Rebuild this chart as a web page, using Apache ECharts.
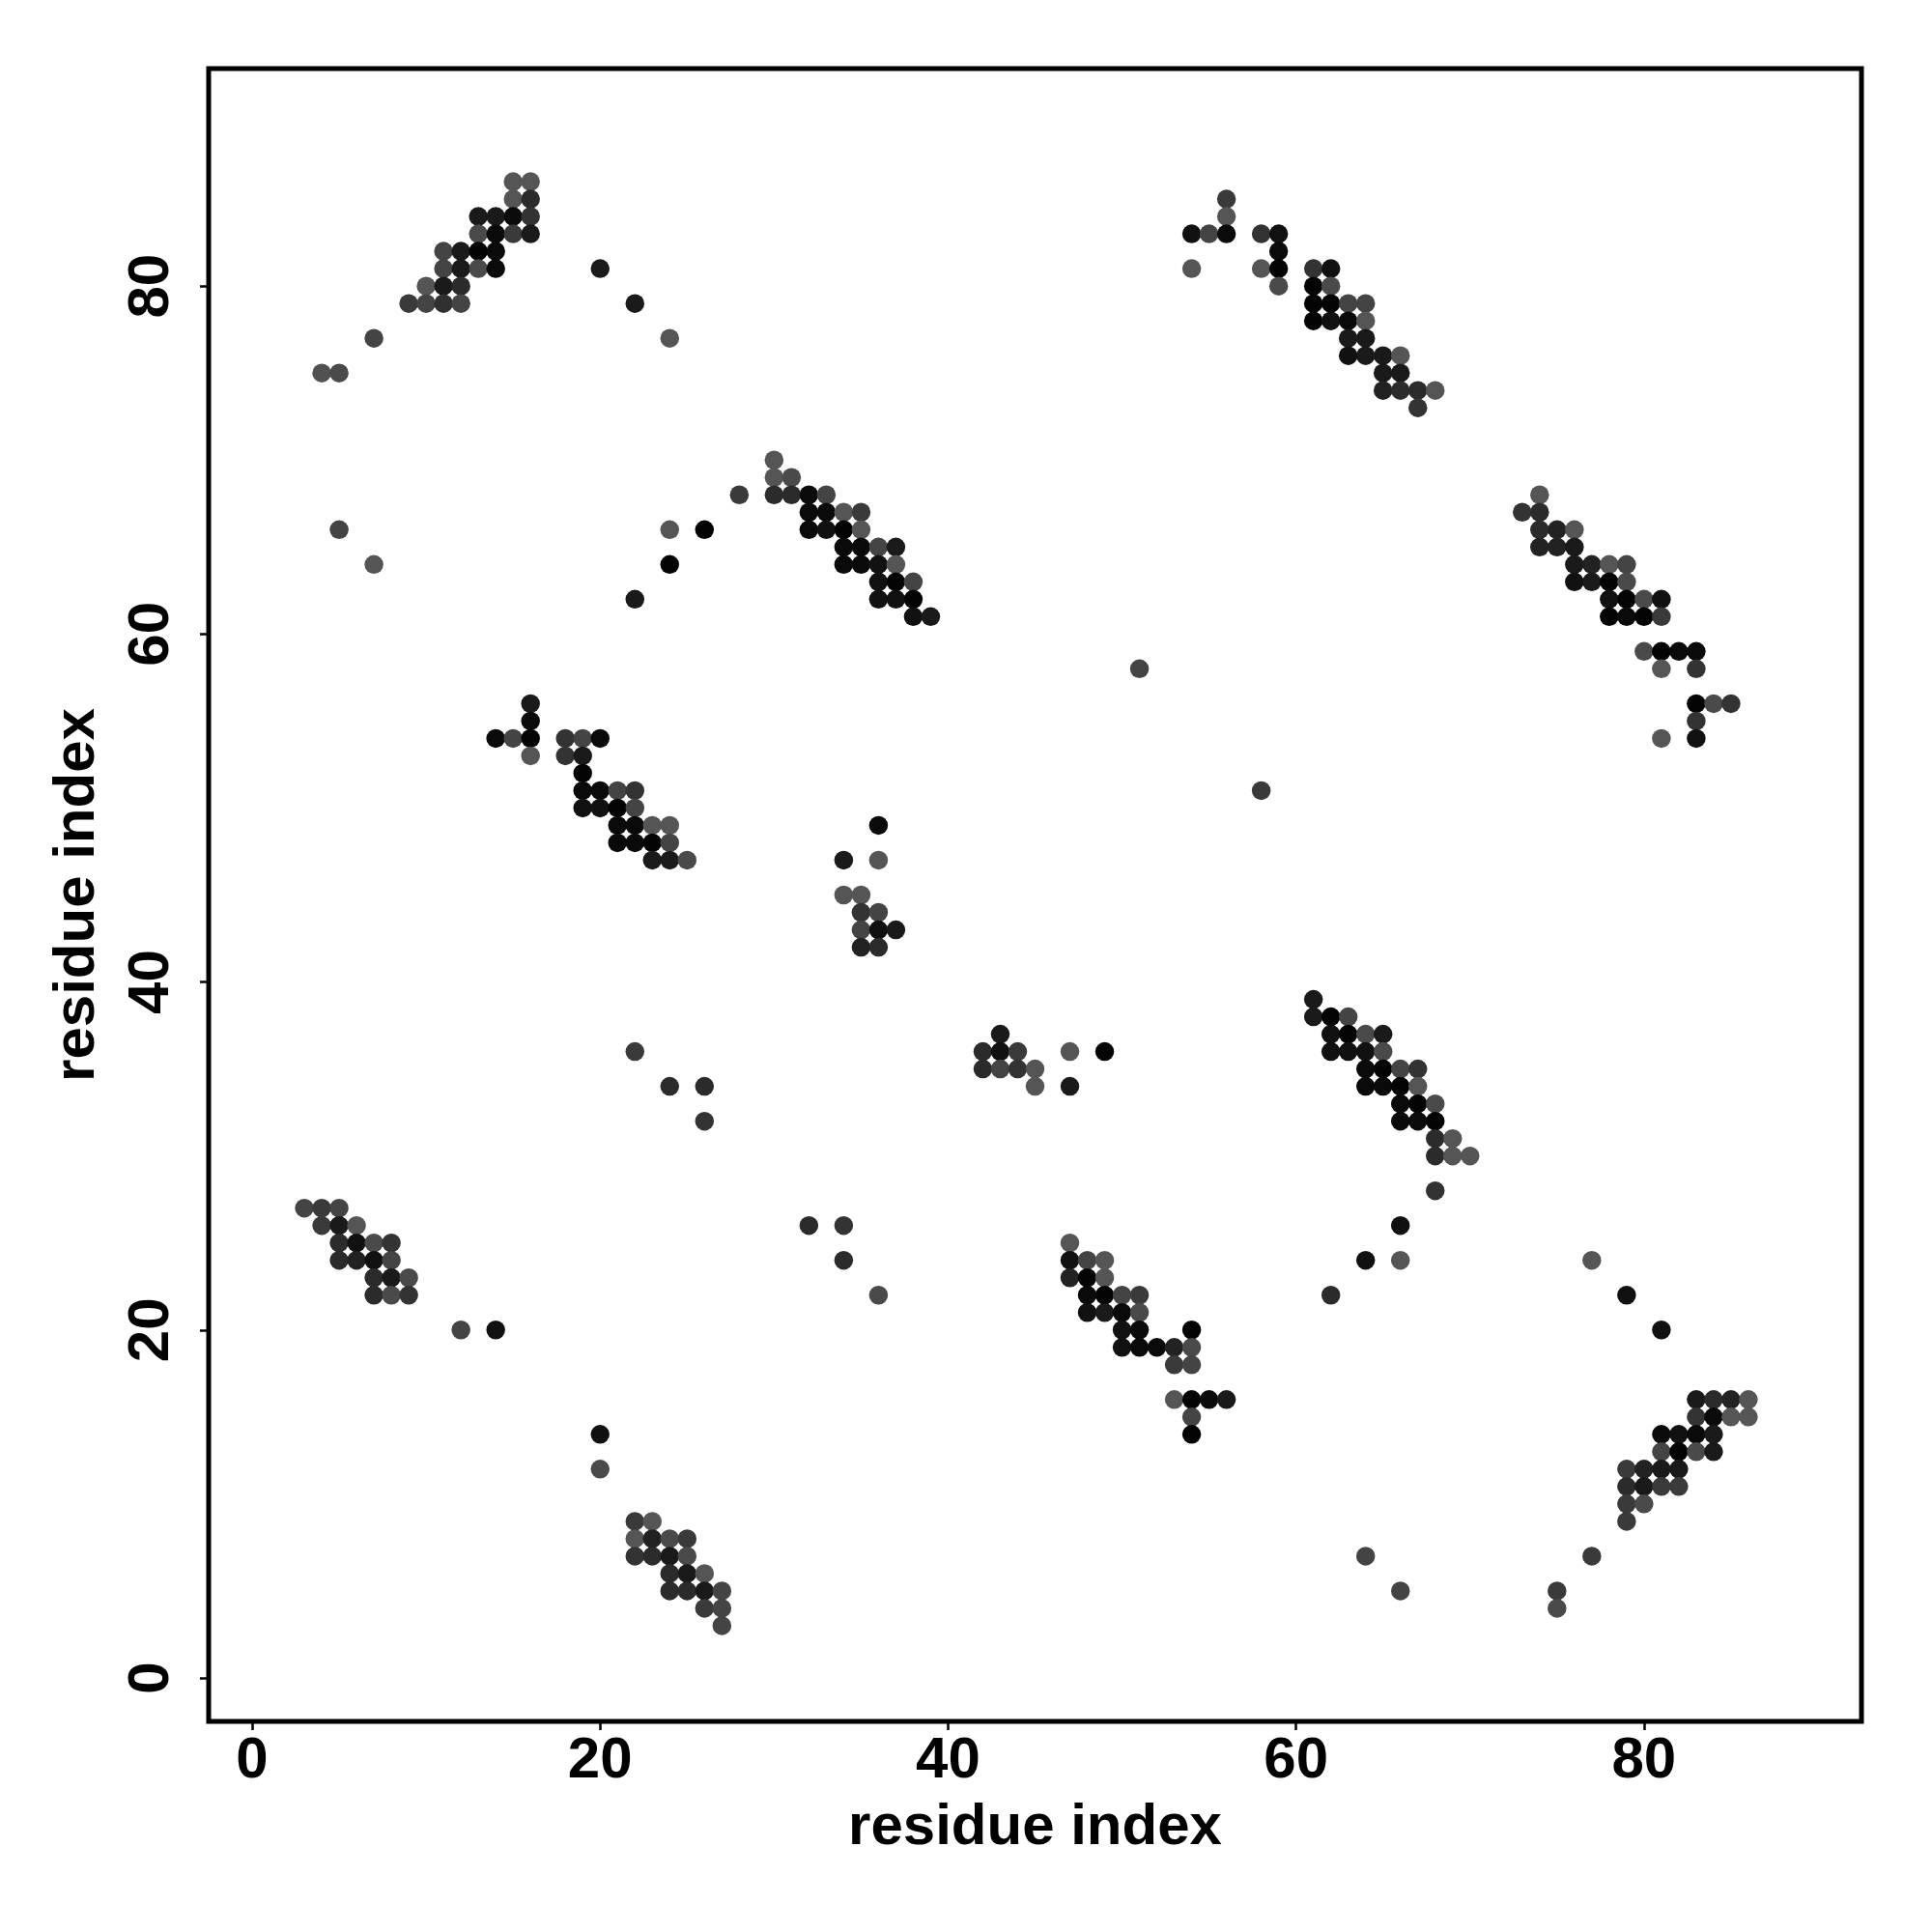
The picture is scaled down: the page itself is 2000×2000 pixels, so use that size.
<!DOCTYPE html>
<html>
<head>
<meta charset="utf-8">
<script src="https://cdn.jsdelivr.net/npm/echarts@6/dist/echarts.min.js"></script>
<style>
  html, body { margin: 0; padding: 0; background: #fff; }
  #chart { width: 2000px; height: 2000px; }
</style>
</head>
<body>
<div id="chart"></div>
<script>
// Contact map: each entry is [residue i, residue j, contact score]
const clusterTopLeft = [
  [15,86,.42],[16,86,.42],[15,85,.42],[16,85,.72],
  [13,84,.84],[14,84,.84],[15,84,.95],[16,84,.66],
  [13,83,.5],[14,83,.95],[15,83,.61],[16,83,.84],
  [11,82,.54],[12,82,.84],[13,82,.99],[14,82,.95],
  [11,81,.54],[12,81,.84],[13,81,.5],[14,81,.95],
  [10,80,.42],[11,80,.84],[12,80,.72],
  [9,79,.61],[10,79,.54],[11,79,.68],[12,79,.54],
  [20,81,.84],[22,79,.84],[24,77,.42],[7,77,.54],[4,75,.45],[5,75,.5]
];
const clusterUpperMid = [
  [5,66,.54],[7,64,.42],
  [30,70,.42],[30,69,.42],[31,69,.5],
  [28,68,.61],[30,68,.72],[31,68,.72],[32,68,.95],[33,68,.54],
  [32,67,.95],[33,67,.95],[34,67,.42],[35,67,.61],
  [24,66,.42],[26,66,.99],[32,66,.95],[33,66,.9],[34,66,.99],[35,66,.42],
  [34,65,.95],[35,65,.95],[36,65,.54],[37,65,.84],
  [24,64,.99],[34,64,.95],[35,64,.95],[36,64,.9],[37,64,.42],
  [36,63,.9],[37,63,.99],[38,63,.54],
  [22,62,.84],[36,62,.9],[37,62,.9],[38,62,.99],
  [38,61,.9],[39,61,.84]
];
const clusterTopRight = [
  [56,85,.61],[56,84,.42],
  [54,83,.9],[55,83,.54],[56,83,.95],[58,83,.66],[59,83,.9],
  [59,82,.95],
  [54,81,.42],[58,81,.42],[59,81,.99],[61,81,.66],[62,81,.9],
  [59,80,.5],[61,80,.99],[62,80,.5],
  [61,79,.99],[62,79,.99],[63,79,.54],[64,79,.54],
  [61,78,.99],[62,78,.9],[63,78,.95],[64,78,.42],
  [63,77,.84],[64,77,.84],
  [63,76,.9],[64,76,.84],[65,76,.84],[66,76,.42],
  [65,75,.84],[66,75,.84],
  [65,74,.78],[66,74,.72],[67,74,.72],[68,74,.42],
  [67,73,.66]
];
const clusterRight = [
  [74,68,.42],
  [73,67,.66],[74,67,.72],
  [74,66,.72],[75,66,.78],[76,66,.42],
  [74,65,.78],[75,65,.78],[76,65,.84],
  [76,64,.84],[77,64,.78],[78,64,.42],[79,64,.54],
  [76,63,.9],[77,63,.84],[78,63,.99],[79,63,.5],
  [78,62,.9],[79,62,.99],[80,62,.5],[81,62,.9],
  [78,61,.99],[79,61,.95],[80,61,.99],[81,61,.61],
  [80,59,.5],[81,59,.99],[82,59,.95],[83,59,.95],
  [81,58,.42],[83,58,.66],
  [83,56,.99],[84,56,.5],[85,56,.66],
  [83,55,.66],
  [81,54,.42],[83,54,.9]
];
const clusterMidLeft = [
  [16,56,.84],[16,55,.95],
  [14,54,.95],[15,54,.54],[16,54,.99],[18,54,.66],[19,54,.54],[20,54,.95],
  [16,53,.42],[18,53,.66],[19,53,.84],
  [19,52,.99],
  [19,51,.95],[20,51,.95],[21,51,.54],[22,51,.66],
  [19,50,.9],[20,50,.9],[21,50,.99],[22,50,.54],
  [21,49,.95],[22,49,.95],[23,49,.42],[24,49,.42],
  [21,48,.95],[22,48,.95],[23,48,.99],[24,48,.54],
  [23,47,.84],[24,47,.84],[25,47,.5]
];
const clusterCenter = [
  [36,49,.95],[34,47,.84],[36,47,.42],[34,45,.42],[35,45,.42],
  [35,44,.66],[36,44,.54],[35,43,.54],[36,43,.9],[37,43,.84],[35,42,.78],[36,42,.72],
  [43,37,.84],[42,36,.72],[43,36,.9],[44,36,.61],[47,36,.42],[49,36,.99],
  [42,35,.72],[43,35,.54],[44,35,.66],[45,35,.42],[45,34,.42],[47,34,.84]
];
const clusterMidRight = [
  [61,39,.84],[61,38,.84],[62,38,.99],[63,38,.54],
  [62,37,.9],[63,37,.99],[64,37,.5],[65,37,.84],
  [62,36,.9],[63,36,.9],[64,36,.9],[65,36,.5],
  [64,35,.95],[65,35,.99],[66,35,.54],[67,35,.66],
  [64,34,.95],[65,34,.95],[66,34,.99],[67,34,.42],
  [66,33,.95],[67,33,.99],[68,33,.5],
  [66,32,.95],[67,32,.95],[68,32,.99],
  [68,31,.72],[69,31,.42],
  [68,30,.72],[69,30,.42],[70,30,.42],
  [68,28,.66]
];
const clusterLowerLeft = [
  [3,27,.54],[4,27,.61],[5,27,.54],
  [4,26,.61],[5,26,.84],[6,26,.42],
  [5,25,.72],[6,25,.9],[7,25,.5],[8,25,.66],
  [5,24,.72],[6,24,.78],[7,24,.9],[8,24,.54],
  [7,23,.72],[8,23,.84],[9,23,.5],
  [7,22,.72],[8,22,.5],[9,22,.66],
  [12,20,.54],[14,20,.9]
];
const clusterLowerMid = [
  [47,25,.42],
  [47,24,.9],[48,24,.54],[49,24,.42],
  [47,23,.78],[48,23,.99],[49,23,.42],
  [48,22,.95],[49,22,.99],[50,22,.54],[51,22,.61],
  [48,21,.9],[49,21,.84],[50,21,.95],[51,21,.5],
  [50,20,.9],[51,20,.95],[54,20,.99],
  [50,19,.9],[51,19,.95],[52,19,.95],[53,19,.78],[54,19,.5],
  [53,18,.61],[54,18,.54],
  [53,16,.42],[54,16,.99],[55,16,.95],[56,16,.84],
  [54,15,.54],[54,14,.99]
];
const clusterBottom = [
  [20,14,.9],[20,12,.5],
  [22,9,.61],[23,9,.42],
  [22,8,.42],[23,8,.78],[24,8,.5],[25,8,.61],
  [22,7,.66],[23,7,.72],[24,7,.84],[25,7,.5],
  [24,6,.72],[25,6,.84],[26,6,.42],
  [24,5,.72],[25,5,.72],[26,5,.84],[27,5,.54],
  [26,4,.61],[27,4,.54],[27,3,.54]
];
const clusterBottomRight = [
  [83,16,.84],[84,16,.72],[85,16,.78],[86,16,.42],
  [83,15,.66],[84,15,.95],[85,15,.42],[86,15,.42],
  [81,14,.95],[82,14,.9],[83,14,.95],[84,14,.84],
  [81,13,.54],[82,13,.99],[83,13,.5],[84,13,.84],
  [79,12,.61],[80,12,.78],[81,12,.84],[82,12,.84],
  [79,11,.72],[80,11,.84],[81,11,.61],[82,11,.61],
  [79,10,.61],[80,10,.5],[79,9,.61],
  [77,7,.61],[75,5,.61],[75,4,.5]
];
const scattered = [
  [51,58,.54],[58,51,.61],[22,36,.61],[24,34,.72],[26,34,.72],[26,32,.66],
  [32,26,.72],[34,26,.66],[34,24,.72],[36,22,.5],
  [62,22,.72],[64,24,.9],[66,26,.9],[66,24,.42],
  [77,24,.42],[79,22,.9],[81,20,.9],[64,7,.54],[66,5,.54]
];
const tickValues = [0, 20, 40, 60, 80];
const axisTitle = 'residue index';

const allContacts = [].concat(
  clusterTopLeft, clusterUpperMid, clusterTopRight, clusterRight,
  clusterMidLeft, clusterCenter, clusterMidRight, clusterLowerLeft,
  clusterLowerMid, clusterBottom, clusterBottomRight, scattered
);

const FONT = '"Liberation Sans", Arial, Helvetica, sans-serif';
const GRID = { left: 216, right: 73, top: 71, bottom: 218 };

const chart = echarts.init(document.getElementById('chart'), null, { renderer: 'canvas' });

function makeAxis(isY) {
  return {
    type: 'value',
    min: -2.5,
    max: 92.5,
    axisLine: { show: false, onZero: false },
    splitLine: { show: false },
    axisTick: {
      show: true,
      inside: false,
      length: 9,
      customValues: tickValues,
      lineStyle: { color: '#000', width: 2.5 }
    },
    axisLabel: {
      show: true,
      customValues: tickValues,
      color: '#000',
      fontSize: 60,
      fontWeight: 'bold',
      fontFamily: FONT,
      margin: isY ? 29 : 11,
      rotate: isY ? 90 : 0
    }
  };
}

chart.setOption({
  backgroundColor: '#fff',
  animation: false,
  grid: Object.assign({
    show: true,
    borderColor: '#000',
    borderWidth: 5,
    backgroundColor: 'transparent'
  }, GRID),
  xAxis: makeAxis(false),
  yAxis: makeAxis(true),
  visualMap: {
    show: false,
    type: 'continuous',
    dimension: 2,
    min: 0.4,
    max: 1.0,
    inRange: { color: ['#585858', '#030303'] }
  },
  graphic: [
    {
      type: 'text',
      x: (GRID.left + (2000 - GRID.right)) / 2,
      y: 1892,
      style: {
        text: axisTitle,
        font: 'bold 60px ' + FONT,
        fill: '#000',
        textAlign: 'center',
        textVerticalAlign: 'middle'
      }
    },
    {
      type: 'text',
      x: 80,
      y: (GRID.top + (2000 - GRID.bottom)) / 2,
      rotation: Math.PI / 2,
      style: {
        text: axisTitle,
        font: 'bold 60px ' + FONT,
        fill: '#000',
        textAlign: 'center',
        textVerticalAlign: 'middle'
      }
    }
  ],
  series: [{
    type: 'scatter',
    symbol: 'circle',
    symbolSize: 19.5,
    data: allContacts,
    itemStyle: { opacity: 1 },
    z: 3
  }]
});
</script>
</body>
</html>
